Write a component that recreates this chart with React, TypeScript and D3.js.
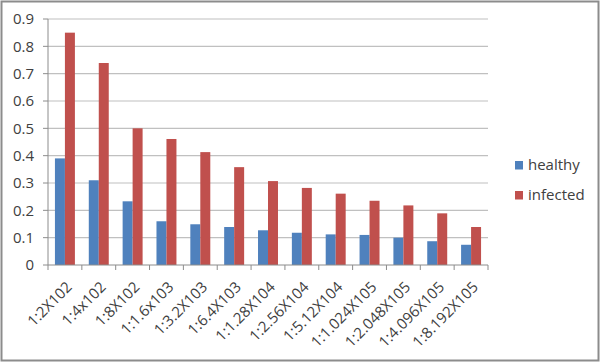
import React from "react";
import * as d3 from "d3";

const categories = ["1:2X102","1:4x102","1:8X102","1:1.6x103","1:3.2X103","1:6.4X103","1:1.28X104","1:2.56X104","1:5.12X104","1:1.024X105","1:2.048X105","1:4.096X105","1:8.192X105"];
const healthy = [0.39,0.31,0.233,0.16,0.149,0.139,0.127,0.118,0.112,0.11,0.1,0.087,0.074];
const infected = [0.85,0.739,0.5,0.461,0.413,0.358,0.307,0.282,0.261,0.235,0.218,0.189,0.139];
const seriesNames = ["healthy","infected"];
const colors = ["#4F81BD","#C0504D"];
const yTicks = [0,0.1,0.2,0.3,0.4,0.5,0.6,0.7,0.8,0.9];

export default function App() {
  const W = 600, H = 362;
  const left = 48, right = 488, top = 19, bottom = 265;
  const x = d3.scaleBand<string>().domain(categories).range([left, right]).paddingInner(0.41).paddingOuter(0.205);
  const y = d3.scaleLinear().domain([0, 0.9]).range([bottom, top]);
  const inner = d3.scaleBand<string>().domain(seriesNames).range([0, x.bandwidth()]);
  const font = "'Open Sans', sans-serif";
  const step = (right - left) / categories.length;
  return (
    <svg width={W} height={H} style={{ position: "absolute", left: 0, top: 0 }} fontFamily={font}>
      <rect x={0} y={0} width={W} height={H} fill="#fff" />
      <rect x={1.5} y={1.5} width={W - 3} height={H - 3} fill="none" stroke="#8c8c8c" strokeWidth={2} />
      {yTicks.map((t) => (
        <g key={t}>
          {t > 0 && <line x1={left} x2={right} y1={y(t)} y2={y(t)} stroke="#c0c0c0" strokeWidth={1.2} />}
          <line x1={left - 5} x2={left} y1={y(t)} y2={y(t)} stroke="#8c8c8c" />
          <text x={34} y={y(t)} dy="0.36em" textAnchor="end" fontSize={15} fill="#404040">{t === 0 ? "0" : d3.format(".1f")(t)}</text>
        </g>
      ))}
      {categories.map((c, i) => (
        <g key={c}>
          {[healthy[i], infected[i]].map((v, j) => (
            <rect key={j} x={(x(c) as number) + (inner(seriesNames[j]) as number)} y={y(v)} width={inner.bandwidth()} height={bottom - y(v)} fill={colors[j]} />
          ))}
        </g>
      ))}
      <line x1={left} x2={left} y1={top} y2={bottom} stroke="#8c8c8c" />
      <line x1={left} x2={right} y1={bottom} y2={bottom} stroke="#8c8c8c" />
      {d3.range(categories.length + 1).map((i) => (
        <line key={i} x1={left + i * step} x2={left + i * step} y1={bottom} y2={bottom + 5} stroke="#8c8c8c" />
      ))}
      {categories.map((c) => {
        const cx = (x(c) as number) + x.bandwidth() / 2 + 8;
        const cy = bottom + 23;
        return (
          <text key={c} x={cx} y={cy} transform={`rotate(-45 ${cx} ${cy})`} textAnchor="end" fontSize={15} fill="#404040">{c}</text>
        );
      })}
      {seriesNames.map((s, j) => (
        <g key={s}>
          <rect x={515} y={161 + j * 30} width={8} height={8.5} fill={colors[j]} />
          <text x={528} y={170 + j * 30} fontSize={15} fill="#404040">{s}</text>
        </g>
      ))}
    </svg>
  );
}
